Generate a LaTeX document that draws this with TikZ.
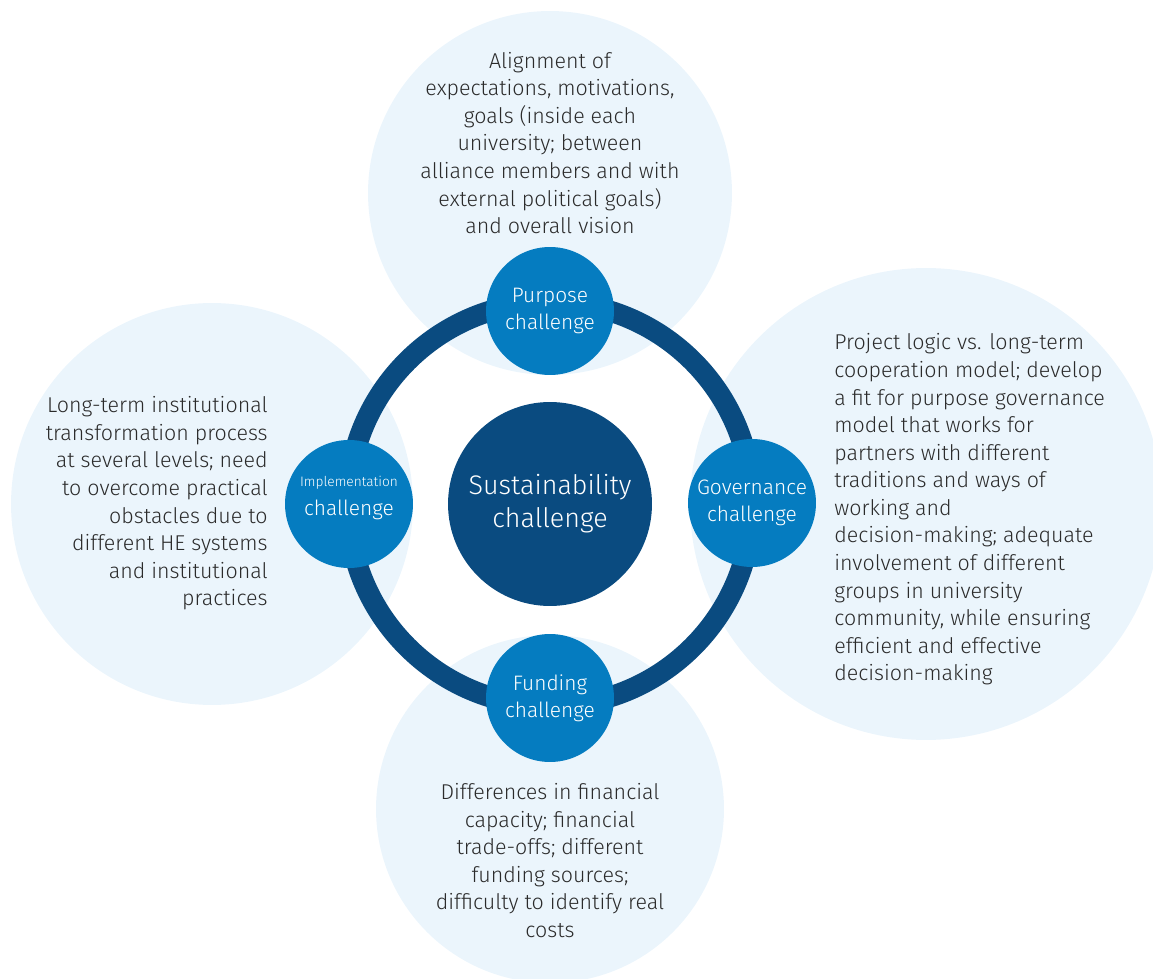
\documentclass[tikz,border=0pt]{standalone}
\usepackage{fontspec}
\setmainfont{Fira Sans Light}
\definecolor{pale}{HTML}{EBF5FC}
\definecolor{deep}{HTML}{0A4B80}
\definecolor{mid}{HTML}{057CC0}
\definecolor{ink}{HTML}{2B2B2B}
\tikzset{
  bigcirc/.style={circle, fill=pale, draw=none, inner sep=0pt},
  smallcirc/.style={circle, fill=mid, draw=none, inner sep=0pt, minimum size=2.56cm, text=white, align=center, font=\fontsize{11.9}{15.5}\selectfont},
  hubcirc/.style={circle, fill=deep, draw=none, inner sep=0pt, minimum size=4.08cm, text=white, align=center, font=\fontsize{15.3}{18.8}\selectfont},
  ringline/.style={draw=deep, line width=0.42cm},
  bodytext/.style={text=ink, inner sep=0pt, font=\fontsize{12.2}{15.7}\selectfont}
}
\begin{document}
\begin{tikzpicture}[x=0.02cm,y=-0.02cm]
\useasboundingbox (0,0) rectangle (1153,979);
\clip (0,0) rectangle (1153,979);
% pale background circles
\node[bigcirc, minimum size=7.28cm] (ptop) at (550,193) {};
\node[bigcirc, minimum size=8.04cm] (pleft) at (212,504) {};
\node[bigcirc, minimum size=9.44cm] (pright) at (926,504) {};
\node[bigcirc, minimum size=6.96cm] (pbottom) at (550,809) {};
% ring
\coordinate (ringc) at (550,504);
\draw[ringline] (ringc) circle[radius=4.04cm];
% hub
\node[hubcirc] (hub) at (550,504) {Sustainability\\challenge};
% challenge circles
\node[smallcirc] (purpose) at (550,311) {Purpose\\challenge};
\node[smallcirc] (gov) at (752,503) {Governance\\challenge};
\node[smallcirc] (impl) at (349,504) {};
\node[text=white, align=center, inner sep=0pt, font=\fontsize{11.9}{15.5}\selectfont] (impltext) at ([yshift=0.13cm]impl.center) {{\fontsize{7.8}{9}\selectfont Implementation}\\[1pt]challenge};
\node[smallcirc] (fund) at (550,698) {Funding\\challenge};
% descriptions
\node[bodytext, align=center] (ttop) at (550,143) {Alignment of\\expectations, motivations,\\goals (inside each\\university; between\\alliance members and with\\external political goals)\\and overall vision};
\node[bodytext, align=right, anchor=east] (tleft) at (268,503.5) {Long-term institutional\\transformation process\\at several levels; need\\to overcome practical\\obstacles due to\\different HE systems\\and institutional\\practices};
\node[bodytext, align=left, anchor=west] (tright) at (834,509.5) {Project logic vs. long-term\\cooperation model; develop\\a fit for purpose governance\\model that works for\\partners with different\\traditions and ways of\\working and\\decision-making; adequate\\involvement of different\\groups in university\\community, while ensuring\\efficient and effective\\decision-making};
\node[bodytext, align=center] (tbottom) at (550,860.5) {Differences in financial\\capacity; financial\\trade-offs; different\\funding sources;\\difficulty to identify real\\costs};
\end{tikzpicture}
\end{document}
